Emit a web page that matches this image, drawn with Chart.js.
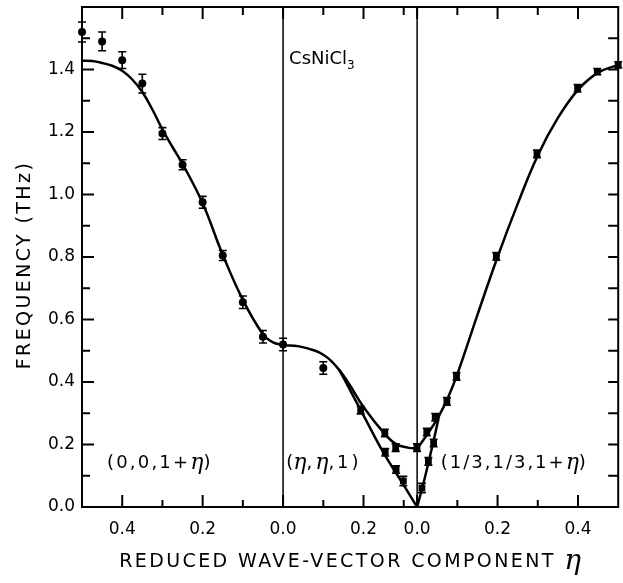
<!DOCTYPE html>
<html>
<head>
<meta charset="utf-8">
<script src="https://cdn.jsdelivr.net/npm/chart.js@4"></script>
<style>
  html, body { margin: 0; padding: 0; background: #fff; }
  canvas { display: block; }
</style>
</head>
<body>
<canvas id="chart" width="623" height="583"></canvas>
<script>
// ---- values (eta = reduced wave-vector component) ----
// panel 1 : (0,0,1+eta), measured points (circles) and fitted curve
const p1Eta  = [0.50, 0.45, 0.40, 0.35, 0.30, 0.25, 0.20, 0.15, 0.10, 0.05, 0.00]
const p1Freq = [1.52, 1.49, 1.43, 1.355, 1.195, 1.095, 0.975, 0.805, 0.655, 0.545, 0.52]
const p1Err  = [0.032, 0.03, 0.027, 0.03, 0.019, 0.016, 0.019, 0.016, 0.02, 0.02, 0.02]
const c1Eta  = [0.50, 0.475, 0.45, 0.425, 0.40, 0.375, 0.35, 0.325, 0.30, 0.275, 0.25, 0.20, 0.15, 0.10, 0.05, 0.025, 0.00]
const c1Freq = [1.428, 1.427, 1.421, 1.412, 1.396, 1.368, 1.328, 1.272, 1.208, 1.152, 1.098, 0.972, 0.807, 0.663, 0.553, 0.527, 0.518]

// panel 2 : (eta,eta,1)
const p2cEta  = [0.10]
const p2cFreq = [0.445]
const p2cErr  = [0.02]
const p2uEta  = [0.193, 0.253, 0.28, 0.333]
const p2uFreq = [0.31, 0.237, 0.19, 0.19]
const p2uErr  = [0.012, 0.012, 0.012, 0.012]
const p2lEta  = [0.254, 0.281, 0.299]
const p2lFreq = [0.175, 0.12, 0.083]
const p2lErr  = [0.012, 0.012, 0.015]
const c2uEta  = [0, 0.04, 0.08, 0.10, 0.12, 0.14, 0.165, 0.20, 0.25, 0.28, 0.31, 0.333]
const c2uFreq = [0.518, 0.514, 0.50, 0.487, 0.467, 0.438, 0.392, 0.32, 0.238, 0.202, 0.19, 0.187]
const c2lEta  = [0.14, 0.165, 0.20, 0.25, 0.30, 0.333]
const c2lFreq = [0.438, 0.378, 0.293, 0.173, 0.07, 0.0]

// panel 3 : (1/3,1/3,1+eta)
const p3uEta  = [0.024, 0.045, 0.074, 0.098, 0.197, 0.298, 0.399, 0.448, 0.50]
const p3uFreq = [0.24, 0.287, 0.338, 0.418, 0.802, 1.13, 1.34, 1.393, 1.415]
const p3uErr  = [0.012, 0.012, 0.012, 0.012, 0.012, 0.012, 0.012, 0.01, 0.01]
const p3lEta  = [0.012, 0.028, 0.041]
const p3lFreq = [0.061, 0.146, 0.205]
const p3lErr  = [0.015, 0.012, 0.012]
const c3uEta  = [0, 0.025, 0.05, 0.075, 0.10, 0.15, 0.20, 0.25, 0.30, 0.35, 0.40, 0.45, 0.50]
const c3uFreq = [0.187, 0.232, 0.282, 0.345, 0.425, 0.615, 0.80, 0.97, 1.125, 1.245, 1.335, 1.39, 1.415]
const c3lEta  = [0, 0.015, 0.03, 0.045, 0.055]
const c3lFreq = [0, 0.072, 0.152, 0.235, 0.295]

// axis ticks: [panel, eta]
const xLabelTicks = [[0, 0.4], [0, 0.2], [0, 0.0], [1, 0.2], [2, 0.0], [2, 0.2], [2, 0.4]]
const xTickLabels = ['0.4', '0.2', '0.0', '0.2', '0.0', '0.2', '0.4']
const xMinorTicks = [[0, 0.3], [0, 0.1], [1, 0.1], [1, 0.3], [2, 0.1], [2, 0.3]]
const yTickVals   = [0, 0.2, 0.4, 0.6, 0.8, 1.0, 1.2, 1.4]
const yMinorVals  = [0.1, 0.3, 0.5, 0.7, 0.9, 1.1, 1.3, 1.5]

// the three panels share one axis: panel 1 runs backwards from eta = 0.5
const panelStart = [0.5, 0.5, 0.5 + 1 / 3]
const panelDir = [-1, 1, 1]
const toAxis = (panel, eta) => panelStart[panel] + panelDir[panel] * eta

function curve(panel, etas, freqs) {
    const data = etas.map((e, i) => ({ x: toAxis(panel, e), y: freqs[i] })).sort((a, b) => a.x - b.x)
    return {
        data, showLine: true, borderColor: '#000', borderWidth: 2.5,
        pointRadius: 0, tension: 0.4, clip: false
    }
}

function marks(panel, etas, freqs, errs, style) {
    return {
        data: etas.map((e, i) => ({ x: toAxis(panel, e), y: freqs[i] })),
        errors: errs, pointStyle: style, pointRadius: style == 'circle' ? 4 : 4.8,
        backgroundColor: '#000', borderColor: '#000', borderWidth: 0, clip: false
    }
}

const FONT = 'DejaVu Sans'

function drawParts(ctx, parts, x, y, align) {
    let w = 0
    parts.forEach(p => { ctx.font = p.font; ctx.letterSpacing = p.spacing || '0px'; p.w = ctx.measureText(p.t).width; w += p.w })
    let cx = align == 'center' ? x - w / 2 : x
    parts.forEach(p => {
        ctx.font = p.font
        ctx.letterSpacing = p.spacing || '0px'
        ctx.fillText(p.t, cx, y + (p.dy || 0))
        cx += p.w
    })
}

const decor = {
    id: 'decor',
    afterDatasetsDraw(chart) {
        const ctx = chart.ctx, yS = chart.scales.y
        ctx.save()
        ctx.strokeStyle = '#000'
        ctx.lineWidth = 1.6
        chart.data.datasets.forEach((ds, i) => {
            if (!ds.errors) return
            chart.getDatasetMeta(i).data.forEach((pt, j) => {
                const v = ds.data[j].y, e = ds.errors[j]
                const y1 = yS.getPixelForValue(v - e), y2 = yS.getPixelForValue(v + e)
                ctx.beginPath()
                ctx.moveTo(pt.x, y1); ctx.lineTo(pt.x, y2)
                ctx.moveTo(pt.x - 4, y1); ctx.lineTo(pt.x + 4, y1)
                ctx.moveTo(pt.x - 4, y2); ctx.lineTo(pt.x + 4, y2)
                ctx.stroke()
            })
        })
        ctx.restore()
    },
    afterDraw(chart) {
        const { ctx, chartArea: a } = chart
        const xS = chart.scales.x, yS = chart.scales.y
        ctx.save()
        ctx.strokeStyle = '#000'
        ctx.fillStyle = '#000'
        const line = (x1, y1, x2, y2) => { ctx.beginPath(); ctx.moveTo(x1, y1); ctx.lineTo(x2, y2); ctx.stroke() }

        // frame and panel dividers
        ctx.lineWidth = 2
        ctx.strokeRect(a.left, a.top, a.right - a.left, a.bottom - a.top)
        ctx.lineWidth = 1.5
        const dividers = [toAxis(0, 0), toAxis(2, 0)]
        dividers.forEach(s => { const px = xS.getPixelForValue(s); line(px, a.top, px, a.bottom) })

        // inward tick marks
        ctx.lineWidth = 2
        xLabelTicks.forEach(([p, e]) => {
            const px = xS.getPixelForValue(toAxis(p, e))
            line(px, a.bottom, px, a.bottom - 12)
            line(px, a.top, px, a.top + 12)
        })
        xMinorTicks.forEach(([p, e]) => {
            const px = xS.getPixelForValue(toAxis(p, e))
            line(px, a.bottom, px, a.bottom - 7)
            line(px, a.top, px, a.top + 8)
        })
        yTickVals.forEach(v => {
            const py = yS.getPixelForValue(v)
            line(a.left, py, a.left + 12, py)
            line(a.right, py, a.right - 10, py)
        })
        yMinorVals.forEach(v => {
            const py = yS.getPixelForValue(v)
            line(a.left, py, a.left + 8, py)
            line(a.right, py, a.right - 10, py)
        })

        // annotations inside the plot
        const eta = 'italic 22px DejaVu Serif'
        const lab = '18px ' + FONT
        ctx.textBaseline = 'middle'
        const ly = yS.getPixelForValue(0.139)
        drawParts(ctx, [{ t: '(0,0,1+', font: lab, spacing: '2.2px' }, { t: 'η', font: eta }, { t: ')', font: lab }],
            xS.getPixelForValue(0.062), ly, 'left')
        drawParts(ctx, [{ t: '(', font: lab }, { t: 'η', font: eta }, { t: ',', font: lab, spacing: '3px' },
            { t: 'η', font: eta }, { t: ',1)', font: lab, spacing: '3px' }],
            xS.getPixelForValue(0.508), ly, 'left')
        drawParts(ctx, [{ t: '(1/3,1/3,1+', font: lab, spacing: '2px' }, { t: 'η', font: eta }, { t: ')', font: lab }],
            xS.getPixelForValue(0.892), ly, 'left')
        ctx.textBaseline = 'alphabetic'
        drawParts(ctx, [{ t: 'CsNiCl', font: lab }, { t: '3', font: '12px ' + FONT, dy: 5 }],
            xS.getPixelForValue(0.515), yS.getPixelForValue(1.418), 'left')

        // axis titles
        drawParts(ctx, [{ t: 'REDUCED WAVE-VECTOR COMPONENT ', font: '19px ' + FONT, spacing: '2.4px' },
            { t: 'η', font: 'italic 28px DejaVu Serif', dy: 2 }],
            (a.left + a.right) / 2, 567, 'center')
        ctx.translate(25, (a.top + a.bottom) / 2 + 8)
        ctx.rotate(-Math.PI / 2)
        ctx.textBaseline = 'middle'
        drawParts(ctx, [{ t: 'FREQUENCY (THz)', font: '19px ' + FONT, spacing: '2.4px' }], 0, 0, 'center')
        ctx.restore()
    }
}

window.onload = () => {
    Chart.defaults.font.family = FONT
    Chart.defaults.font.size = 17
    Chart.defaults.color = '#000'

    new Chart(document.getElementById('chart'), {
        type: 'scatter',
        data: {
            datasets: [
                curve(0, c1Eta, c1Freq),
                curve(1, c2uEta, c2uFreq),
                curve(1, c2lEta, c2lFreq),
                curve(2, c3uEta, c3uFreq),
                curve(2, c3lEta, c3lFreq),
                marks(0, p1Eta, p1Freq, p1Err, 'circle'),
                marks(1, p2cEta, p2cFreq, p2cErr, 'circle'),
                marks(1, p2uEta, p2uFreq, p2uErr, 'rect'),
                marks(1, p2lEta, p2lFreq, p2lErr, 'rect'),
                marks(2, p3uEta, p3uFreq, p3uErr, 'rect'),
                marks(2, p3lEta, p3lFreq, p3lErr, 'rect')
            ]
        },
        options: {
            responsive: false,
            animation: false,
            layout: { padding: { top: 7, right: 2, left: 0, bottom: 0 } },
            plugins: { legend: { display: false }, tooltip: { enabled: false } },
            scales: {
                x: {
                    type: 'linear', min: 0, max: 0.5 + 1 / 3 + 0.5,
                    afterBuildTicks: s => { s.ticks = xLabelTicks.map(([p, e]) => ({ value: toAxis(p, e) })) },
                    afterFit: s => { s.height = 76; s.paddingLeft = 0; s.paddingRight = 0 },
                    ticks: { callback: (v, i) => xTickLabels[i], padding: 12, autoSkip: false, maxRotation: 0 },
                    grid: { display: false, drawTicks: false },
                    border: { display: false }
                },
                y: {
                    min: 0, max: 1.6,
                    afterBuildTicks: s => { s.ticks = yTickVals.map(v => ({ value: v })) },
                    afterFit: s => { s.width = 82; s.paddingTop = 0; s.paddingBottom = 0 },
                    ticks: { callback: v => v.toFixed(1), padding: 7 },
                    grid: { display: false, drawTicks: false },
                    border: { display: false }
                }
            }
        },
        plugins: [decor]
    })
}
</script>
</body>
</html>
